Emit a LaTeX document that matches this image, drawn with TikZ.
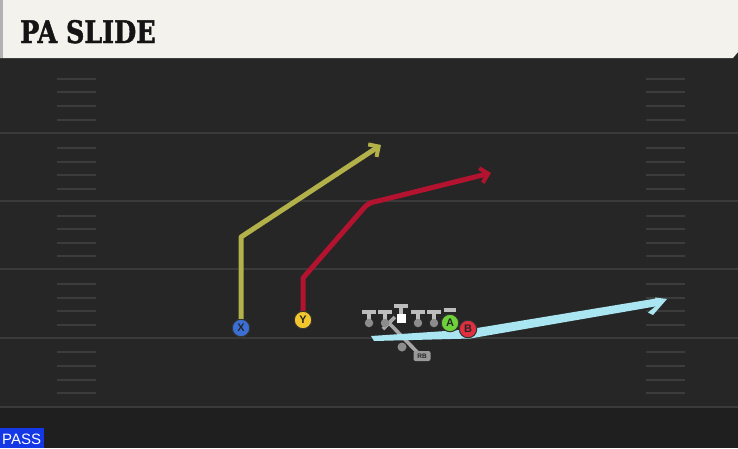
\documentclass[tikz,border=0pt]{standalone}
\usepackage{fontspec}
\newfontfamily\titlefont{DejaVu Serif}[FakeStretch=0.82, FakeBold=1.5]
\newfontfamily\lblfont{Liberation Sans}
\usetikzlibrary{arrows.meta}
\definecolor{fieldbg}{HTML}{262626}
\definecolor{fieldlow}{HTML}{1F1F1F}
\definecolor{yardline}{HTML}{3A3A3A}
\definecolor{hashc}{HTML}{3C3C3C}
\definecolor{titlebg}{HTML}{F4F2EC}
\definecolor{routeX}{HTML}{B3B14A}
\definecolor{routeY}{HTML}{B3132F}
\definecolor{routeB}{HTML}{A9E6F2}
\definecolor{cX}{HTML}{3C6FD6}
\definecolor{cY}{HTML}{F3C62E}
\definecolor{cA}{HTML}{6ED13A}
\definecolor{cB}{HTML}{E0303F}
\definecolor{olc}{HTML}{BDBDBD}
\definecolor{passblue}{HTML}{1438E6}
\tikzset{
  player/.style={circle, draw=black!80, line width=1pt, minimum size=17.5pt, inner sep=0pt, font=\lblfont\bfseries\fontsize{11}{11}\selectfont, text=black!85},
  yard/.style={draw=yardline, line width=2pt},
  hash/.style={draw=hashc, line width=1.6pt},
  route/.style={line width=5pt, line join=round, -{Straight Barb[length=7.5pt,width=15pt,line width=4pt]}},
  olT/.style={draw=olc, line width=3.6pt},
}
\begin{document}
\begin{tikzpicture}[x=1pt,y=-1pt]
\useasboundingbox (0,0) rectangle (738,448);
% field
\fill[fieldbg] (0,0) rectangle (738,448);
\fill[fieldlow] (0,407) rectangle (738,448);
% yard lines
\foreach \yy in {133,201,269,338,407}{
  \draw[yard] (0,\yy) -- (738,\yy);
}
% hash marks
\foreach \yy in {79,92,106,120,148,162,175,189,216,229,243,256,284,298,311,325,352,366,380,393}{
  \draw[hash] (57,\yy) -- (96,\yy);
  \draw[hash] (646,\yy) -- (685,\yy);
}
% title bar
\fill[black!85] (0,58) rectangle (738,66);
\fill[titlebg] (0,0) -- (738,0) -- (738,52) -- (733,58) -- (0,58) -- cycle;
\fill[black!30] (0,0) rectangle (3,58);
\node[anchor=base west, inner sep=0pt, font=\titlefont\bfseries\fontsize{31}{31}\selectfont, text=black!92] (title) at (20,43) {PA SLIDE};
% pass label
\fill[passblue] (0,428) rectangle (44,448);
\node[anchor=base west, inner sep=0pt, font=\lblfont\fontsize{15}{15}\selectfont, text=white] (pass) at (2,444) {PASS};

% players
\node[player, fill=cX] (X) at (241,328) {X};
\node[player, fill=cY] (Y) at (303,320) {Y};
\coordinate (xbreak) at (241,237);
\coordinate (xend) at (381,145);
\coordinate (ybreak) at (303,278);
\coordinate (ycurve) at (363,209);
\coordinate (yc2) at (378,201);
\coordinate (yend) at (491,173);

\draw[route, draw=routeX, color=routeX] (X.north) -- (xbreak) -- (xend);
\draw[route, draw=routeY, color=routeY] (Y.north) -- (ybreak) -- (ycurve) .. controls (367,204) and (371,202) .. (yc2) -- (yend);

% RB
\coordinate (rbtop) at (389,323);
\coordinate (rbend) at (419,354);
\draw[draw=black!35, line width=3.6pt] (rbtop) -- (rbend);
\draw[draw=black!35, line width=3.6pt] (383,329) -- (395,317);
\node[circle, fill=black!45, minimum size=9pt, inner sep=0pt] (rbdot) at (402,347) {};
\node[fill=black!40, rounded corners=2pt, inner sep=1pt, minimum width=17pt, minimum height=10pt, font=\lblfont\bfseries\fontsize{6.5}{6.5}\selectfont, text=black!85] (RB) at (422,356) {RB};

% blue route
\fill[routeB] (371,336) -- (468,329.5) -- (656,298.5) -- (658,306) -- (470,338.5) -- (374,341) -- cycle;
\fill[routeB] (655,297.5) -- (667,299) -- (653,315) -- (648,312.5) -- (657,305) -- cycle;

% OL
\foreach \xx/\nm in {369/t1,385/t2,418/t4,434/t5}{
  \draw[olT] (\xx-7,312) -- (\xx+7,312);
  \draw[olT] (\xx,312) -- (\xx,322);
  \node[circle, fill=black!45, minimum size=8.5pt, inner sep=0pt] (\nm) at (\xx,323) {};
}
\draw[olT] (394,306) -- (408,306);
\draw[olT] (401,306) -- (401,314);
\node[fill=white, minimum size=9pt, inner sep=0pt] (C) at (401,318) {};
\draw[olT] (444,310) -- (456,310);

\node[player, fill=cA] (A) at (450,323) {A};
\node[player, fill=cB] (B) at (468,329) {B};
\end{tikzpicture}
\end{document}
